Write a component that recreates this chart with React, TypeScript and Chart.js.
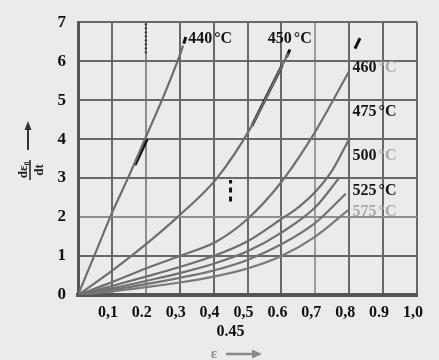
import React, { useEffect, useRef } from 'react';
import { Chart, registerables } from 'chart.js';

Chart.register(...registerables);

// ---- data ----
const curveNames = ['440', '450', '460', '475', '500', '525', '575'];

const x440 = [0, 0.05, 0.1, 0.15, 0.2, 0.25, 0.3, 0.31];
const y440 = [0, 1.05, 2.1, 3.05, 4.05, 5.05, 6.15, 6.4];

const x450 = [0, 0.1, 0.2, 0.3, 0.41, 0.51, 0.6, 0.62];
const y450 = [0, 0.62, 1.3, 2.05, 3.0, 4.3, 5.85, 6.2];

const x460 = [0, 0.1, 0.2, 0.3, 0.41, 0.5, 0.6, 0.69, 0.74, 0.8];
const y460 = [0, 0.33, 0.68, 1.0, 1.38, 1.95, 2.9, 4.05, 4.8, 5.75];

const x475 = [0, 0.1, 0.2, 0.3, 0.4, 0.5, 0.6, 0.65, 0.7, 0.75, 0.8];
const y475 = [0, 0.23, 0.47, 0.72, 1.0, 1.38, 1.95, 2.25, 2.65, 3.2, 4.0];

const x500 = [0, 0.1, 0.2, 0.3, 0.4, 0.5, 0.6, 0.7, 0.77];
const y500 = [0, 0.17, 0.36, 0.56, 0.8, 1.12, 1.6, 2.25, 3.0];

const x525 = [0, 0.1, 0.2, 0.3, 0.4, 0.5, 0.6, 0.7, 0.79];
const y525 = [0, 0.13, 0.28, 0.44, 0.63, 0.9, 1.3, 1.85, 2.6];

const x575 = [0, 0.1, 0.2, 0.3, 0.4, 0.5, 0.6, 0.7, 0.8];
const y575 = [0, 0.09, 0.2, 0.32, 0.47, 0.68, 1.0, 1.5, 2.2];

const curveXs = [x440, x450, x460, x475, x500, x525, x575];
const curveYs = [y440, y450, y460, y475, y500, y525, y575];

// hand-drawn black marks on the scan
const markXs = [[0.168, 0.204], [0.513, 0.602], [0.615, 0.625], [0.817, 0.832], [0.312, 0.318]];
const markYs = [[3.33, 4.0], [4.34, 5.89], [6.1, 6.3], [6.32, 6.59], [6.45, 6.62]];
const dottedX = [0.2, 0.2];
const dottedY = [6.2, 7.0];
const dashX = [0.45, 0.45];
const dashY = [2.4, 2.95];

const xTickValues = [0, 0.1, 0.2, 0.3, 0.4, 0.5, 0.6, 0.7, 0.8, 0.9, 1.0, 0.45];
const xTickLabels: (string | string[])[] = ['', '0,1', '0.2', '0,3', '0,4', '0,5', '0.6', '0,7', '0,8', '0.9', '1,0', ['', '  0.45']];
const yTickLabels = ['0', '1', '2', '3', '4', '5', '6', '7'];

const labelNums = ['440', '450', '460', '475', '500', '525', '575'];
const labelUnit = '°C';
const labelAnchorX = [0.325, 0.56, 0.81, 0.81, 0.81, 0.81, 0.81];
const labelAnchorY = [6.57, 6.57, 5.84, 4.71, 3.56, 2.68, 2.13];

const xTitle = 'ε';
const yTitleNum = 'dε₀';
const yTitleDen = 'dt';

export default function App() {
  const ref = useRef<HTMLCanvasElement>(null);

  useEffect(() => {
    const canvas = ref.current!;
    const serif = '"Liberation Serif", "Times New Roman", serif';
    const curveColor = ['#6e6e6e', '#6e6e6e', '#707070', '#6e6e6e', '#707070', '#737373', '#7a7a7a'];

    const datasets: any[] = curveXs.map((xs, i) => ({
      label: curveNames[i],
      data: xs.map((x, j) => ({ x, y: curveYs[i][j] })),
      showLine: true,
      borderColor: curveColor[i],
      borderWidth: 2.2,
      pointRadius: 0,
      cubicInterpolationMode: 'monotone',
      fill: false,
    }));
    markXs.forEach((xs, i) => {
      datasets.push({
        data: xs.map((x, j) => ({ x, y: markYs[i][j] })),
        showLine: true,
        borderColor: '#111',
        borderWidth: 3,
        pointRadius: 0,
        tension: 0,
      });
    });
    datasets.push({
      data: dottedX.map((x, j) => ({ x, y: dottedY[j] })),
      showLine: true, borderColor: '#222', borderWidth: 2, borderDash: [2, 2], pointRadius: 0, tension: 0,
    });
    datasets.push({
      data: dashX.map((x, j) => ({ x, y: dashY[j] })),
      showLine: true, borderColor: '#111', borderWidth: 3, borderDash: [5, 4], pointRadius: 0, tension: 0,
    });

    const annot = {
      id: 'annot',
      afterDatasetsDraw(chart: any) {
        const { ctx, scales } = chart;
        const xs = scales.x, ys = scales.y;
        ctx.save();
        ctx.font = `bold 16px ${serif}`;
        ctx.textBaseline = 'middle';
        ctx.textAlign = 'left';
        labelNums.forEach((num: string, i: number) => {
          const px = xs.getPixelForValue(labelAnchorX[i]);
          const py = ys.getPixelForValue(labelAnchorY[i]);
          const faded = i === 6;
          const unitFaded = i === 2 || i === 4 || i === 6;
          ctx.fillStyle = faded ? '#a8a8a8' : '#141414';
          ctx.fillText(num, px, py);
          const w = ctx.measureText(num).width;
          ctx.fillStyle = unitFaded ? '#a8a8a8' : '#141414';
          ctx.fillText(labelUnit, px + w + 2, py);
        });

        // y-axis title: rotated fraction + arrow
        ctx.save();
        ctx.translate(30, 170);
        ctx.rotate(-Math.PI / 2);
        ctx.fillStyle = '#222';
        ctx.font = `bold 13px ${serif}`;
        ctx.textAlign = 'center';
        ctx.textBaseline = 'alphabetic';
        ctx.fillText(yTitleNum, 0, -3);
        ctx.textBaseline = 'top';
        ctx.fillText(yTitleDen, 0, 3);
        ctx.strokeStyle = '#222';
        ctx.lineWidth = 1.5;
        ctx.beginPath();
        ctx.moveTo(-10, 0);
        ctx.lineTo(10, 0);
        ctx.stroke();
        ctx.restore();
        ctx.strokeStyle = '#333';
        ctx.fillStyle = '#333';
        ctx.lineWidth = 2;
        ctx.beginPath();
        ctx.moveTo(28, 150);
        ctx.lineTo(28, 128);
        ctx.stroke();
        ctx.beginPath();
        ctx.moveTo(28, 121);
        ctx.lineTo(24.5, 130);
        ctx.lineTo(31.5, 130);
        ctx.closePath();
        ctx.fill();

        // x-axis title
        ctx.fillStyle = '#8a8a8a';
        ctx.strokeStyle = '#8a8a8a';
        ctx.font = `bold 15px ${serif}`;
        ctx.textAlign = 'center';
        ctx.textBaseline = 'middle';
        ctx.fillText(xTitle, 214, 354);
        ctx.lineWidth = 2.5;
        ctx.beginPath();
        ctx.moveTo(226, 354);
        ctx.lineTo(254, 354);
        ctx.stroke();
        ctx.beginPath();
        ctx.moveTo(262, 354);
        ctx.lineTo(252, 349.5);
        ctx.lineTo(252, 358.5);
        ctx.closePath();
        ctx.fill();
        ctx.restore();
      },
    };

    const chart = new Chart(canvas, {
      type: 'scatter',
      data: { datasets },
      plugins: [annot],
      options: {
        animation: false,
        responsive: true,
        maintainAspectRatio: false,
        layout: { padding: { left: 0, top: 16, right: 22, bottom: 0 } },
        plugins: { legend: { display: false }, tooltip: { enabled: false } },
        scales: {
          x: {
            type: 'linear',
            min: 0,
            max: 1,
            afterBuildTicks: (s: any) => {
              s.ticks = xTickValues.map((v) => ({ value: v }));
            },
            afterFit: (s: any) => {
              s.height = 65;
            },
            grid: {
              drawTicks: false,
              lineWidth: 2,
              color: (c: any) => {
                const v = c.tick ? c.tick.value : 0;
                if (v === 0.45) return 'rgba(0,0,0,0)';
                if (v === 0.7) return '#9c9c9c';
                if (v === 0.2) return '#8e8e8e';
                return '#686868';
              },
            },
            border: { color: '#555', width: 4 },
            ticks: {
              autoSkip: false,
              maxRotation: 0,
              minRotation: 0,
              padding: 8,
              labelOffset: -4,
              color: '#111',
              font: { family: serif, size: 16, weight: 'bold' },
              callback: (_v: any, i: number) => xTickLabels[i],
            },
          },
          y: {
            type: 'linear',
            min: 0,
            max: 7,
            afterFit: (s: any) => {
              s.width = 78;
            },
            grid: {
              drawTicks: false,
              lineWidth: 2,
              color: (c: any) => (c.tick && c.tick.value === 2 ? '#8e8e8e' : '#686868'),
            },
            border: { color: '#555', width: 3 },
            ticks: {
              stepSize: 1,
              padding: 12,
              color: '#111',
              font: { family: serif, size: 17, weight: 'bold' },
              callback: (v: any) => yTickLabels[Number(v)] ?? '',
            },
          },
        },
      } as any,
    });

    return () => chart.destroy();
  }, []);

  return (
    <div style={{ position: 'fixed', left: 0, top: 0, width: 439, height: 360, background: '#ebebeb' }}>
      <canvas ref={ref} />
    </div>
  );
}
